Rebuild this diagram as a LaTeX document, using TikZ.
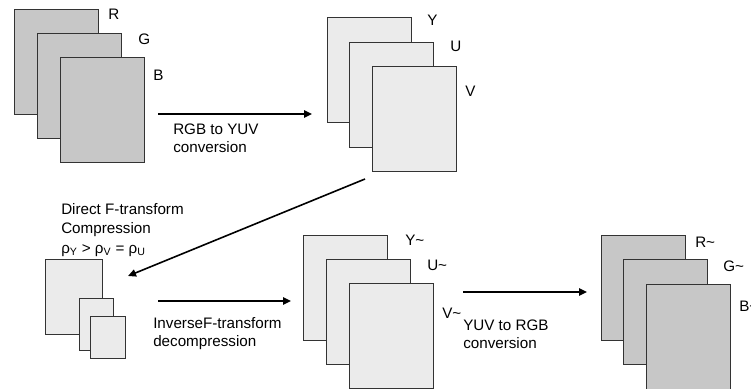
\documentclass[tikz,border=0pt]{standalone}
\usepackage{fontspec}
\setmainfont{Liberation Sans}
\usetikzlibrary{arrows.meta}
\tikzset{
  plane/.style={draw=black!80, line width=0.8pt, inner sep=0pt, anchor=north west,
    minimum width=63pt, minimum height=78.75pt},
  dark/.style={plane, fill=black!22},
  light/.style={plane, fill=black!8},
  lbl/.style={inner sep=0pt, anchor=base west, font=\fontsize{11.4}{13.5}\selectfont},
  conn/.style={line width=1.2pt, -{Triangle[length=6pt,width=5.5pt]}},
}
\begin{document}
\begin{tikzpicture}[x=0.75pt,y=-0.75pt]
\useasboundingbox (0,0) rectangle (751,389);
% RGB stack
\node[dark] (R) at (14,9) {};
\node[dark] (G) at (37,33) {};
\node[dark] (B) at (60,57) {};
\node[lbl] (lR) at (108,20) {R};
\node[lbl] (lG) at (138,44) {G};
\node[lbl] (lB) at (153,80) {B};
% YUV stack
\node[light] (Y) at (327,17) {};
\node[light] (U) at (349,42) {};
\node[light] (V) at (372,66) {};
\node[lbl] (lY) at (427,26) {Y};
\node[lbl] (lU) at (450,51) {U};
\node[lbl] (lV) at (465,96) {V};
% compressed planes
\node[light, minimum width=42.75pt, minimum height=56.25pt] (s1) at (45,259) {};
\node[light, minimum width=25.5pt, minimum height=39pt] (s2) at (79,298) {};
\node[light, minimum width=26.25pt, minimum height=31.5pt] (s3) at (90,316) {};
% reconstructed YUV
\node[light] (Yt) at (303,235) {};
\node[light] (Ut) at (326,259) {};
\node[light] (Vt) at (349,283) {};
\node[lbl] (lYt) at (405,245) {Y\textasciitilde};
\node[lbl] (lUt) at (427,270) {U\textasciitilde};
\node[lbl] (lVt) at (442,318) {V\textasciitilde};
% reconstructed RGB
\node[dark] (Rt) at (601,235) {};
\node[dark] (Gt) at (623,259) {};
\node[dark] (Bt) at (646,284) {};
\node[lbl] (lRt) at (695,247) {R\textasciitilde};
\node[lbl] (lGt) at (723,271) {G\textasciitilde};
\node[lbl] (lBt) at (739,311) {B\textasciitilde};
% arrow end points
\coordinate (a1s) at (158,114);
\coordinate (a1e) at (312,114);
\coordinate (a2s) at (365,179);
\coordinate (a2e) at (128,276);
\coordinate (a3s) at (158,301);
\coordinate (a3e) at (291,301);
\coordinate (a4s) at (463,292);
\coordinate (a4e) at (587,292);
\draw[conn] (a1s) -- (a1e);
\draw[conn] (a2s) -- (a2e);
\draw[conn] (a3s) -- (a3e);
\draw[conn] (a4s) -- (a4e);
% texts
\node[lbl] (t1a) at (173,134) {RGB to YUV};
\node[lbl] (t1b) at (173,152) {conversion};
\node[lbl] (t2a) at (61,214) {Direct F-transform};
\node[lbl] (t2b) at (61,233) {Compression};
\node[lbl] (t2c) at (61,253) {ρ\textsubscript{Y} > ρ\textsubscript{V} = ρ\textsubscript{U}};
\node[lbl] (t3a) at (153,328) {InverseF-transform};
\node[lbl] (t3b) at (153,346) {decompression};
\node[lbl] (t4a) at (463,330) {YUV to RGB};
\node[lbl] (t4b) at (463,348) {conversion};
\end{tikzpicture}
\end{document}
